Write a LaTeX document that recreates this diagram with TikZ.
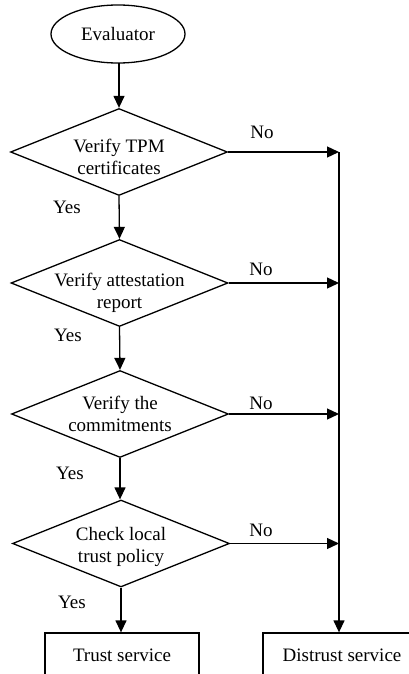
\documentclass[tikz,border=0pt]{standalone}
\usepackage{fontspec}
\setmainfont{Liberation Serif}
\usetikzlibrary{shapes.geometric,arrows.meta}

\tikzset{
  flow/.style={line width=1.3pt},
  arr/.style={flow,-{Triangle[length=12pt,width=11pt]}},
  lbl/.style={inner sep=0pt,font=\fontsize{19}{22}\selectfont},
  decision/.style 2 args={diamond,draw,line width=1.3pt,inner sep=0pt,
    minimum width=217pt,minimum height=87pt,
    label={[lbl,align=center,yshift=#2]center:#1}},
  terminal/.style={ellipse,draw,line width=1.3pt,inner sep=0pt,
    minimum width=134pt,minimum height=58pt,font=\fontsize{19}{22}\selectfont},
  outcome/.style={rectangle,draw,line width=1.3pt,inner sep=0pt,
    minimum height=44pt,font=\fontsize{19}{22}\selectfont}
}

\begin{document}
\begin{tikzpicture}[x=1pt,y=-1pt]
  \useasboundingbox (0,0) rectangle (409,674);
  \clip (0,0) rectangle (409,674);

  % nodes of the flow
  \node[terminal] (eval) at (118,34) {Evaluator};
  \node[decision={Verify TPM\\certificates}{-5pt}] (d1) at (119,152) {};
  \node[decision={Verify attestation\\report}{-10pt}] (d2) at (119.5,283) {};
  \node[decision={Verify the\\commitments}{0pt}] (d3) at (120,414) {};
  \node[decision={Check local\\trust policy}{-3.5pt}] (d4) at (121,543.5) {};
  \node[outcome,minimum width=154pt] (trust) at (122,655) {Trust service};
  \node[outcome,minimum width=158pt] (distrust) at (342,655) {Distrust service};

  % collecting line on the right
  \coordinate (bus) at (339,152);

  % main path
  \draw[arr] (eval.south) -- (eval.south -| d1.north) -- (d1.north);
  \draw[arr] (d1.south) -- (d2.north);
  \draw[arr] (d2.south) -- (d3.north);
  \draw[arr] (d3.south) -- (d3.south |- d4.north);
  \draw[arr] (d4.south) -- (d4.south |- trust.north);

  % rejection branches
  \draw[arr] (d1.east) -- (bus |- d1.east);
  \draw[arr] (d2.east) -- (bus |- d2.east);
  \draw[arr] (d3.east) -- (bus |- d3.east);
  \draw[arr] (d4.east) -- (bus |- d4.east);
  \draw[arr] (bus) -- (bus |- distrust.north);

  % branch labels
  \node[lbl] (n1) at (262,132) {No};
  \node[lbl] (n2) at (261,269) {No};
  \node[lbl] (n3) at (261,403) {No};
  \node[lbl] (n4) at (261,530) {No};
  \node[lbl] (y1) at (67,207) {Yes};
  \node[lbl] (y2) at (68,335) {Yes};
  \node[lbl] (y3) at (70,473) {Yes};
  \node[lbl] (y4) at (72,602) {Yes};
\end{tikzpicture}
\end{document}
